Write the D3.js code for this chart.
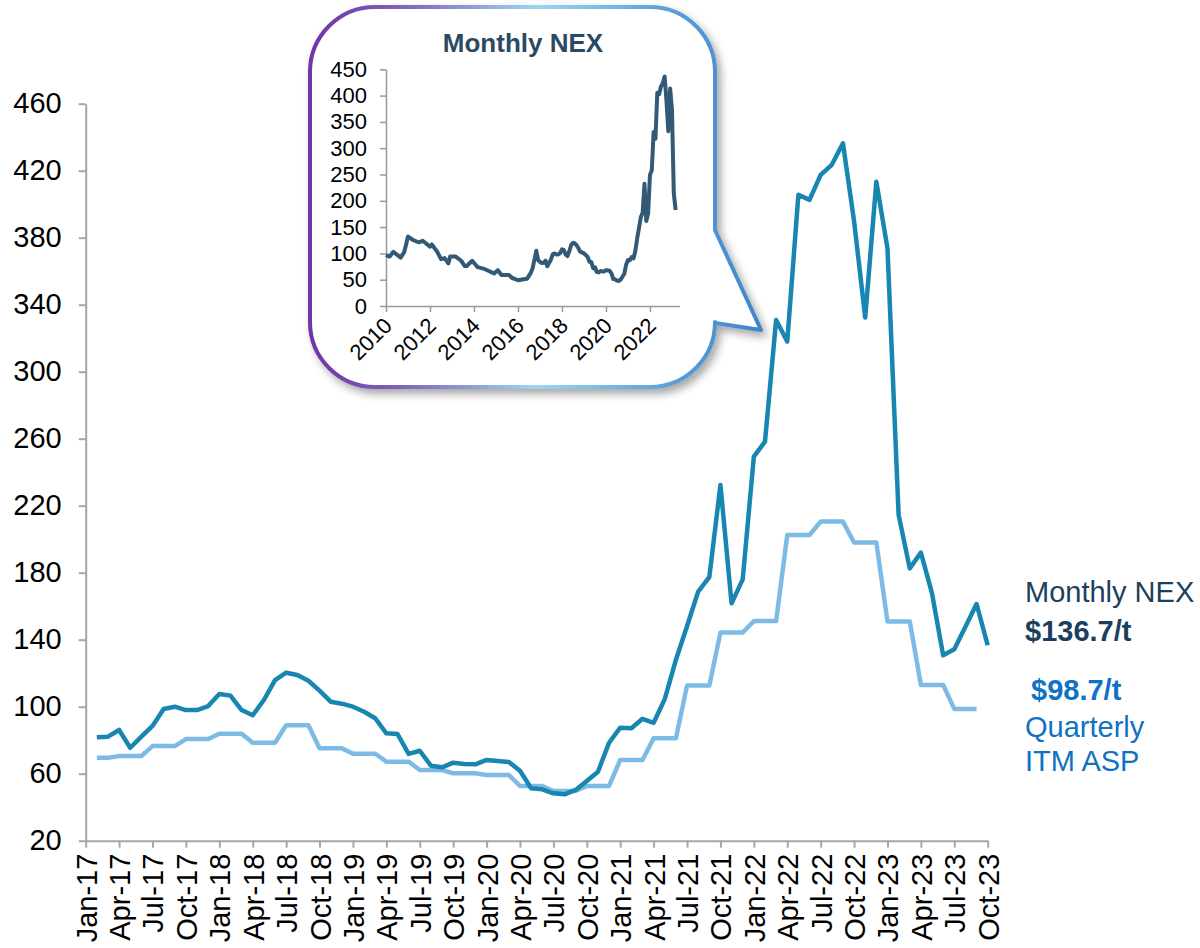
<!DOCTYPE html>
<html>
<head>
<meta charset="utf-8">
<script src="https://cdn.jsdelivr.net/npm/d3@7"></script>
<style>
  body { margin: 0; background: #fff; }
  svg { display: block; font-family: Arial, "Liberation Sans", sans-serif; }
</style>
</head>
<body>
<svg id="chart" width="1200" height="948"></svg>
<script>
// ---- data ----
// quarterly category labels on the main x axis
var tickLabels = ['Jan-17','Apr-17','Jul-17','Oct-17','Jan-18','Apr-18','Jul-18','Oct-18',
	'Jan-19','Apr-19','Jul-19','Oct-19','Jan-20','Apr-20','Jul-20','Oct-20',
	'Jan-21','Apr-21','Jul-21','Oct-21','Jan-22','Apr-22','Jul-22','Oct-22',
	'Jan-23','Apr-23','Jul-23','Oct-23'];
var yTicks = [20, 60, 100, 140, 180, 220, 260, 300, 340, 380, 420, 460];

// monthly NEX, Feb-17 .. Oct-23 ($/t)
var nexFirstMonth = '2017-02';
var nexValues = [
	81.7, 82.1, 86.1, 75.5, 82.1, 88.5, 98.6, 100, 98, 98, 100.4,
	107.6, 106.6, 98, 94.9, 104, 115.9, 120.3, 118.9, 115.5, 109.6, 103, 101.8,
	100, 97, 93.1, 84.1, 83.7, 71.8, 73.7, 64.8, 63.8, 66.6, 65.8, 65.6,
	68.2, 67.6, 67, 61.8, 51.3, 50.7, 48.3, 47.7, 50.3, 55.6, 61.2, 78.5,
	87.5, 87.1, 92.8, 90.4, 104.5, 128, 148, 168.7, 177.3, 232.4, 161.7, 176,
	249.3, 258.2, 330.9, 318, 405.6, 402.6, 417.5, 423.5, 436.4, 390, 332.3, 413.4,
	373.7, 214.5, 182.6, 192, 167.7, 130.7, 134.3, 147.8, 161.3, 136.7
];

// quarterly ITM average selling price ($/t)
var itmQuarters = ['Q1-17','Q2-17','Q3-17','Q4-17','Q1-18','Q2-18','Q3-18','Q4-18',
	'Q1-19','Q2-19','Q3-19','Q4-19','Q1-20','Q2-20','Q3-20','Q4-20',
	'Q1-21','Q2-21','Q3-21','Q4-21','Q1-22','Q2-22','Q3-22','Q4-22',
	'Q1-23','Q2-23','Q3-23'];
var itmValues = [69.5, 70.5, 76.5, 80.7, 83.9, 78.5, 88.9, 75.2,
	71.9, 67.2, 62.2, 60.2, 59.2, 52.7, 49.7, 52.7,
	68.2, 81.1, 112.6, 144.3, 151.1, 202.5, 210.5, 198,
	150.9, 113, 98.7];

// inset: monthly NEX 2010 .. Jan-17, later months from nexValues
var insetEarlyMonths = ['2010-01','2010-03','2010-05','2010-09','2010-11','2011-01','2011-04','2011-07',
	'2011-09','2012-01','2012-02','2012-05','2012-07','2012-09','2012-11','2012-12',
	'2013-03','2013-06','2013-08','2013-09','2013-12','2014-03','2014-07','2014-10',
	'2014-12','2015-02','2015-04','2015-08','2015-10','2016-01','2016-04','2016-06',
	'2016-08','2016-09','2016-11','2016-12','2017-01'];
var insetEarlyValues = [97, 94, 103, 92, 103, 132, 125, 121,
	124, 113, 117, 103, 89, 91, 81, 94,
	94, 86, 76, 76, 86, 74, 70, 65,
	62, 68, 59, 59, 53, 49, 51, 52,
	63, 72, 105, 87, 84];
var insetLastMonth = '2023-03';
var insetYTicks = [0, 50, 100, 150, 200, 250, 300, 350, 400, 450];
var insetYears = [2010, 2012, 2014, 2016, 2018, 2020, 2022];

// ---- helpers ----
function monthIndex(str, baseYear) {
	var p = str.split('-');
	return (+p[0] - baseYear) * 12 + (+p[1] - 1);
}

var svg = d3.select('#chart');
var defs = svg.append('defs');

// ---- main chart ----
var plotLeft = 85.7, plotRight = 987.7, plotTop = 103.7, plotBottom = 840.7;
var x = d3.scaleLinear().domain([0, 81]).range([plotLeft, plotRight]);
var y = d3.scaleLinear().domain([20, 460]).range([plotBottom, plotTop]);

var nexStart = monthIndex(nexFirstMonth, 2017);
var nexData = nexValues.map(function(v, i) { return { m: nexStart + i, v: v }; });

// each quarter value is held for its months (Feb-17 is the first month shown)
var itmData = [];
itmValues.forEach(function(v, q) {
	for (var k = 0; k < 3; k++) {
		var m = q * 3 + k;
		if (m >= nexStart) itmData.push({ m: m, v: v });
	}
});

var axisColor = '#a6a6a6';

var yAxis = svg.append('g')
	.attr('transform', 'translate(' + plotLeft + ',0)')
	.call(d3.axisLeft(y).tickValues(yTicks).tickSize(7).tickPadding(17).tickSizeOuter(0));
var xAxis = svg.append('g')
	.attr('transform', 'translate(0,' + plotBottom + ')')
	.call(d3.axisBottom(x).tickValues(d3.range(tickLabels.length).map(function(i) { return i * 3; }))
		.tickFormat(function(d, i) { return tickLabels[i]; })
		.tickSize(7).tickSizeOuter(0));

[yAxis, xAxis].forEach(function(ax) {
	ax.select('.domain').attr('stroke', axisColor).attr('stroke-width', 2);
	ax.selectAll('.tick line').attr('stroke', axisColor).attr('stroke-width', 2);
	ax.selectAll('text').attr('fill', '#000').style('font-size', '29px')
		.style('font-family', 'Arial, "Liberation Sans", sans-serif');
});
xAxis.selectAll('text')
	.attr('transform', 'rotate(-90)')
	.attr('text-anchor', 'end')
	.attr('x', -13).attr('y', 0).attr('dy', '0.36em');

var line = d3.line()
	.x(function(d) { return x(d.m); })
	.y(function(d) { return y(d.v); });

svg.append('path').datum(itmData)
	.attr('d', line)
	.attr('fill', 'none')
	.attr('stroke', '#7dbbe6')
	.attr('stroke-width', 4.5)
	.attr('stroke-linejoin', 'round');

svg.append('path').datum(nexData)
	.attr('d', line)
	.attr('fill', 'none')
	.attr('stroke', '#1786b0')
	.attr('stroke-width', 4.5)
	.attr('stroke-linejoin', 'round');

// end labels
var lab = svg.append('g').style('font-size', '29px');
lab.append('text').attr('x', 1025).attr('y', 602).attr('fill', '#1c3f5e').text('Monthly NEX');
lab.append('text').attr('x', 1025).attr('y', 641).attr('fill', '#1c3f5e')
	.style('font-weight', 'bold').text('$' + nexValues[nexValues.length - 1] + '/t');
lab.append('text').attr('x', 1031).attr('y', 700).attr('fill', '#0f72c2')
	.style('font-weight', 'bold').text('$' + itmValues[itmValues.length - 1] + '/t');
lab.append('text').attr('x', 1025).attr('y', 737).attr('fill', '#0f72c2').text('Quarterly');
lab.append('text').attr('x', 1025).attr('y', 771).attr('fill', '#0f72c2').text('ITM ASP');

// ---- inset callout ----
var grad = defs.append('linearGradient').attr('id', 'border')
	.attr('gradientUnits', 'userSpaceOnUse')
	.attr('x1', 310).attr('y1', 0).attr('x2', 761).attr('y2', 0);
grad.append('stop').attr('offset', '0').attr('stop-color', '#7034a6');
grad.append('stop').attr('offset', '0.2').attr('stop-color', '#7e62bb');
grad.append('stop').attr('offset', '0.5').attr('stop-color', '#9cd6f0');
grad.append('stop').attr('offset', '0.78').attr('stop-color', '#5fa2da');
grad.append('stop').attr('offset', '1').attr('stop-color', '#3f85cb');

var shadow = defs.append('filter').attr('id', 'shadow')
	.attr('x', '-10%').attr('y', '-10%').attr('width', '130%').attr('height', '130%');
shadow.append('feDropShadow').attr('dx', 4).attr('dy', 5).attr('stdDeviation', 4)
	.attr('flood-color', '#000').attr('flood-opacity', 0.35);

var bx0 = 310, by0 = 7, bx1 = 715, by1 = 387, r = 65;
var bubble = d3.path();
bubble.moveTo(bx0 + r, by0);
bubble.lineTo(bx1 - r, by0);
bubble.arcTo(bx1, by0, bx1, by0 + r, r);
bubble.lineTo(bx1, 230);
bubble.lineTo(761, 330);
bubble.lineTo(bx1, 323);
bubble.lineTo(bx1, by1 - r);
bubble.arcTo(bx1, by1, bx1 - r, by1, r);
bubble.lineTo(bx0 + r, by1);
bubble.arcTo(bx0, by1, bx0, by1 - r, r);
bubble.lineTo(bx0, by0 + r);
bubble.arcTo(bx0, by0, bx0 + r, by0, r);
bubble.closePath();

svg.append('path')
	.attr('d', bubble.toString())
	.attr('fill', '#fff')
	.attr('stroke', 'url(#border)')
	.attr('stroke-width', 4)
	.attr('stroke-linejoin', 'round')
	.attr('filter', 'url(#shadow)');

svg.append('text')
	.attr('x', 523).attr('y', 52)
	.attr('text-anchor', 'middle')
	.attr('fill', '#2b4a62')
	.style('font-size', '26px').style('font-weight', 'bold')
	.text('Monthly NEX');

var ix = d3.scaleLinear().domain([0, 160]).range([386, 679.3]);
var iy = d3.scaleLinear().domain([0, 450]).range([306, 69.3]);

var insetData = insetEarlyMonths.map(function(m, i) {
	return { m: monthIndex(m, 2010), v: insetEarlyValues[i] };
});
var insetEnd = monthIndex(insetLastMonth, 2010);
nexData.forEach(function(d) {
	var m = d.m + 84;
	if (m <= insetEnd) insetData.push({ m: m, v: d.v });
});

var iyAxis = svg.append('g')
	.attr('transform', 'translate(386,0)')
	.call(d3.axisLeft(iy).tickValues(insetYTicks).tickSize(6).tickPadding(13).tickSizeOuter(0));
var ixAxis = svg.append('g')
	.attr('transform', 'translate(0,306)')
	.call(d3.axisBottom(ix).tickValues(insetYears.map(function(yr) { return (yr - 2010) * 12; }))
		.tickFormat(function(d, i) { return insetYears[i]; })
		.tickSize(6).tickSizeOuter(0));

[iyAxis, ixAxis].forEach(function(ax) {
	ax.select('.domain').attr('stroke', '#9a9a9a').attr('stroke-width', 1.5);
	ax.selectAll('.tick line').attr('stroke', '#9a9a9a').attr('stroke-width', 1.5);
	ax.selectAll('text').attr('fill', '#000').style('font-size', '22px')
		.style('font-family', 'Arial, "Liberation Sans", sans-serif');
});
ixAxis.selectAll('text')
	.attr('transform', 'rotate(-45)')
	.attr('text-anchor', 'end')
	.attr('x', -10).attr('y', 12).attr('dy', '0.35em');

var iline = d3.line()
	.x(function(d) { return ix(d.m); })
	.y(function(d) { return iy(d.v); });

svg.append('path').datum(insetData)
	.attr('d', iline)
	.attr('fill', 'none')
	.attr('stroke', '#325a76')
	.attr('stroke-width', 4)
	.attr('stroke-linejoin', 'round');
</script>
</body>
</html>
